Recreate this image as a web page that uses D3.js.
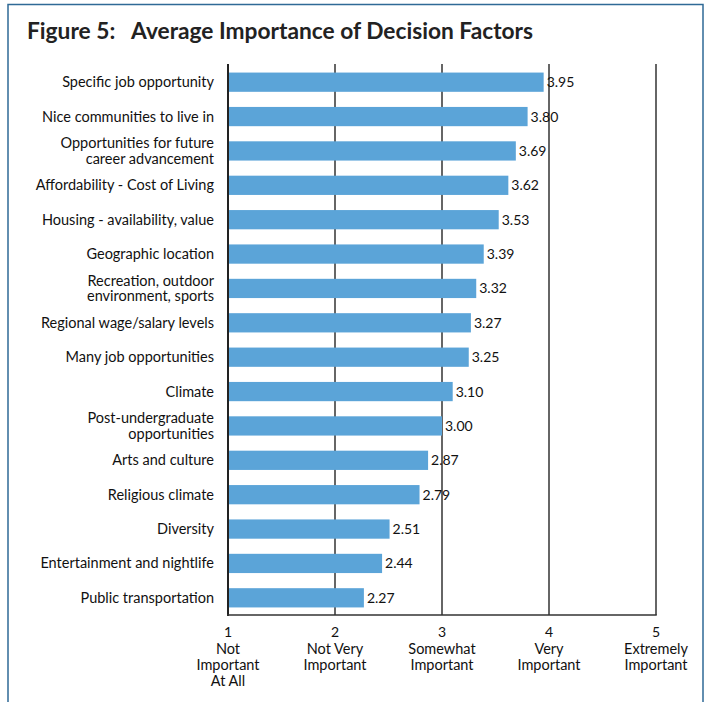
<!DOCTYPE html>
<html><head><meta charset="utf-8">
<script src="https://cdn.jsdelivr.net/npm/d3@7"></script>
<style>body{margin:0;background:#fff;}</style>
</head><body>
<svg id="c" width="705" height="702"></svg>
<script>
const categories = [
  ["Specific job opportunity"],
  ["Nice communities to live in"],
  ["Opportunities for future", "career advancement"],
  ["Affordability - Cost of Living"],
  ["Housing - availability, value"],
  ["Geographic location"],
  ["Recreation, outdoor", "environment, sports"],
  ["Regional wage/salary levels"],
  ["Many job opportunities"],
  ["Climate"],
  ["Post-undergraduate", "opportunities"],
  ["Arts and culture"],
  ["Religious climate"],
  ["Diversity"],
  ["Entertainment and nightlife"],
  ["Public transportation"]
];
const values = [3.95, 3.80, 3.69, 3.62, 3.53, 3.39, 3.32, 3.27, 3.25, 3.10, 3.00, 2.87, 2.79, 2.51, 2.44, 2.27];
const tickValues = [1, 2, 3, 4, 5];
const tickLabels = [["Not", "Important", "At All"], ["Not Very", "Important"], ["Somewhat", "Important"], ["Very", "Important"], ["Extremely", "Important"]];
const title = "Figure 5:   Average Importance of Decision Factors";

const font = "'Lato', 'Open Sans', sans-serif";
const svg = d3.select("#c");

// frame
svg.append("path").attr("d", "M8,710 V4.5 H703 V710")
  .attr("fill", "none").attr("stroke", "#2F6A96").attr("stroke-width", 1.5);

svg.append("text").attr("x", 27).attr("y", 39)
  .attr("font-family", font).attr("font-weight", "bold").attr("font-size", 22)
  .attr("fill", "#222").attr("xml:space", "preserve")
  .attr("textLength", 506).attr("lengthAdjust", "spacingAndGlyphs").text(title);

const x = d3.scaleLinear().domain([1, 5]).range([228, 656]);
const y = d3.scaleBand().domain(d3.range(categories.length)).range([65, 615]).paddingInner(0.44).paddingOuter(0.22);

// gridlines
svg.append("g").selectAll("line").data(tickValues.slice(1)).join("line")
  .attr("x1", d => x(d)).attr("x2", d => x(d)).attr("y1", 64).attr("y2", 615)
  .attr("stroke", "#333").attr("stroke-width", 1.5);

// bars
svg.append("g").selectAll("rect").data(values).join("rect")
  .attr("x", x(1)).attr("y", (d, i) => y(i)).attr("width", d => x(d) - x(1))
  .attr("height", y.bandwidth()).attr("fill", "#5BA4D8");

// axes lines
svg.append("line").attr("x1", x(1)).attr("x2", x(1)).attr("y1", 64).attr("y2", 616)
  .attr("stroke", "#222").attr("stroke-width", 2);
svg.append("line").attr("x1", x(1) - 1).attr("x2", x(5) + 0.75).attr("y1", 615).attr("y2", 615)
  .attr("stroke", "#333").attr("stroke-width", 1.5);

// value labels
svg.append("g").selectAll("text").data(values).join("text")
  .attr("x", d => x(d) + 3).attr("y", (d, i) => y(i) + y.bandwidth() / 2 + 5)
  .attr("font-family", font).attr("font-size", 14).attr("fill", "#111")
  .text(d => d.toFixed(2));

// category labels
const lineGap = 15.5;
const cl = svg.append("g").selectAll("text").data(categories).join("text")
  .attr("text-anchor", "end").attr("font-family", font).attr("font-size", 14.5).attr("fill", "#111")
  .attr("y", (d, i) => y(i) + y.bandwidth() / 2 + 5 - (d.length - 1) * lineGap / 2);
cl.selectAll("tspan").data(d => d).join("tspan")
  .attr("x", 214).attr("dy", (d, j) => j === 0 ? 0 : lineGap).text(d => d);

// tick labels
const tg = svg.append("g").selectAll("g").data(tickValues).join("g");
tg.append("text").attr("x", d => x(d)).attr("y", 637).attr("text-anchor", "middle")
  .attr("font-family", font).attr("font-size", 14).attr("fill", "#111").text(d => d);
const tl = tg.append("text").attr("text-anchor", "middle")
  .attr("font-family", font).attr("font-size", 14.5).attr("fill", "#111").attr("y", 654);
tl.selectAll("tspan").data((d, i) => tickLabels[i]).join("tspan")
  .attr("x", function () { return x(d3.select(this.parentNode).datum()); })
  .attr("dy", (d, j) => j === 0 ? 0 : 16).text(d => d);
</script>
</body></html>
